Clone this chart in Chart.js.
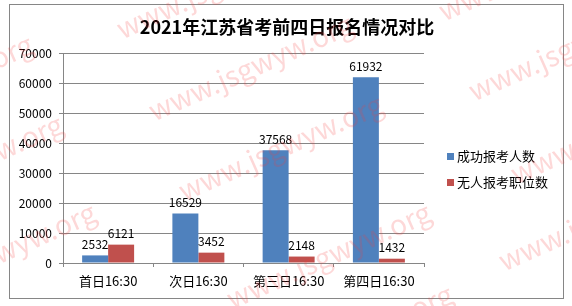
<!DOCTYPE html>
<html>
<head>
<meta charset="utf-8">
<script src="https://cdn.jsdelivr.net/npm/chart.js@4.4.1/dist/chart.umd.min.js"></script>
<style>
  html, body { margin: 0; padding: 0; background: #fff; }
  #wrap { width: 572px; height: 306px; position: relative; }
</style>
</head>
<body>
<div id="wrap"><canvas id="chart"></canvas></div>
<script>
const chartTitle = "2021年江苏省考前四日报名情况对比";
const categories = ["首日16:30", "次日16:30", "第三日16:30", "第四日16:30"];
const seriesNames = ["成功报考人数", "无人报考职位数"];
const applicants = [2532, 16529, 37568, 61932];
const emptyPosts = [6121, 3452, 2148, 1432];
const yMin = 0, yMax = 70000, yStep = 10000;
const watermarkText = "www.jsgwyw.org";

const FONT = "'Noto Sans CJK SC', 'Noto Sans', sans-serif";
const GRID = "#868686";

// frame + title drawn behind the chart
const framePlugin = {
  id: "frame",
  beforeDraw(chart) {
    const ctx = chart.ctx;
    ctx.save();
    ctx.fillStyle = "#fff";
    ctx.fillRect(0, 0, chart.width, chart.height);
    ctx.strokeStyle = GRID;
    ctx.lineWidth = 1;
    ctx.strokeRect(9.5, 4.5, 554, 294);
    ctx.fillStyle = "#000";
    ctx.font = "bold 18px " + FONT;
    ctx.textAlign = "center";
    ctx.textBaseline = "middle";
    ctx.fillText(chartTitle, 287, 27);
    ctx.restore();
  }
};

// value labels above each bar
const valueLabels = {
  id: "valueLabels",
  afterDatasetsDraw(chart) {
    const ctx = chart.ctx;
    ctx.save();
    ctx.font = "12px " + FONT;
    ctx.fillStyle = "#000";
    ctx.textAlign = "center";
    ctx.textBaseline = "middle";
    chart.data.datasets.forEach((ds, i) => {
      chart.getDatasetMeta(i).data.forEach((bar, j) => {
        ctx.fillText(String(ds.data[j]), bar.x, bar.y - 11);
      });
    });
    ctx.restore();
  }
};

// legend on the right
const sideLegend = {
  id: "sideLegend",
  afterDraw(chart) {
    const ctx = chart.ctx;
    ctx.save();
    ctx.font = "13px " + FONT;
    ctx.textBaseline = "middle";
    ctx.textAlign = "left";
    chart.data.datasets.forEach((ds, i) => {
      const y = 156 + i * 26;
      ctx.fillStyle = ds.backgroundColor;
      ctx.fillRect(447, y - 3, 7, 7);
      ctx.fillStyle = "#000";
      ctx.fillText(ds.label, 457, y);
    });
    ctx.restore();
  }
};

// faint diagonal watermark
const watermark = {
  id: "watermark",
  afterDraw(chart) {
    const ctx = chart.ctx;
    const starts = [
      [118, 30], [150, 112], [180, 192], [228, 300], [250, 382],
      [440, 12], [470, 92], [512, 175], [500, 262],
      [-170, 132], [-140, 212], [-107, 300]
    ];
    ctx.save();
    ctx.font = "28px " + FONT;
    const scale = 220 / ctx.measureText(watermarkText).width;
    ctx.font = (28 * scale).toFixed(1) + "px " + FONT;
    ctx.fillStyle = "rgba(245, 60, 60, 0.2)";
    ctx.textBaseline = "middle";
    ctx.textAlign = "left";
    starts.forEach(([x, y]) => {
      ctx.save();
      ctx.translate(x, y);
      ctx.rotate(-24 * Math.PI / 180);
      ctx.fillText(watermarkText, 0, 0);
      ctx.restore();
    });
    ctx.restore();
  }
};

new Chart(document.getElementById("chart"), {
  type: "bar",
  data: {
    labels: categories,
    datasets: [
      {
        label: seriesNames[0],
        data: applicants,
        backgroundColor: "#4F81BD",
        categoryPercentage: 0.576,
        barPercentage: 1
      },
      {
        label: seriesNames[1],
        data: emptyPosts,
        backgroundColor: "#C0504D",
        categoryPercentage: 0.576,
        barPercentage: 1
      }
    ]
  },
  options: {
    responsive: true,
    maintainAspectRatio: false,
    animation: false,
    layout: { padding: { left: 0, right: 148, top: 53, bottom: 0 } },
    plugins: {
      legend: { display: false },
      title: { display: false },
      tooltip: { enabled: false }
    },
    scales: {
      x: {
        offset: true,
        grid: {
          offset: true,
          drawOnChartArea: false,
          drawTicks: true,
          tickLength: 4,
          color: GRID
        },
        border: { color: GRID },
        ticks: {
          color: "#000",
          font: { family: FONT, size: 13 },
          padding: 6,
          maxRotation: 0
        },
        afterFit(scale) { scale.height = 43; }
      },
      y: {
        min: yMin,
        max: yMax,
        grid: { color: GRID, tickLength: 4 },
        border: { color: GRID },
        ticks: {
          stepSize: yStep,
          color: "#000",
          font: { family: FONT, size: 12 },
          padding: 7,
          callback: (v) => String(v)
        },
        afterFit(scale) { scale.width = 63; }
      }
    }
  },
  plugins: [framePlugin, valueLabels, sideLegend, watermark]
});
</script>
</body>
</html>
